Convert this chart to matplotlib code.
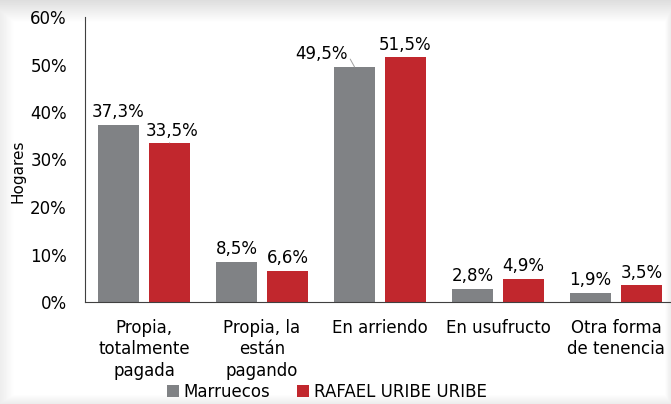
import matplotlib.pyplot as plt
import numpy as np

categorias = ["Propia,\ntotalmente\npagada", "Propia, la\nestán\npagando",
              "En arriendo", "En usufructo", "Otra forma\nde tenencia"]
marruecos = [37.3, 8.5, 49.5, 2.8, 1.9]
rafael = [33.5, 6.6, 51.5, 4.9, 3.5]
series = ["Marruecos", "RAFAEL URIBE URIBE"]
yticks = [0, 10, 20, 30, 40, 50, 60]

gris = "#808285"
rojo = "#c1272d"

fig = plt.figure(figsize=(6.71, 4.04), dpi=100)
fig.patch.set_facecolor("white")

# light shading around the frame
bg = fig.add_axes([0, 0, 1, 1])
h, w = 404, 671
yy, xx = np.mgrid[0:h, 0:w]
shade = np.zeros((h, w))
shade = np.maximum(shade, np.clip((22 - yy) / 22, 0, 1) * 0.13)
shade = np.maximum(shade, np.clip((xx - 664) / 7, 0, 1) * 0.08)
shade = np.maximum(shade, np.clip((yy - 394) / 10, 0, 1) * 0.08)
shade = np.maximum(shade, np.clip((14 - xx) / 14, 0, 1) * 0.07)
bg.imshow(1 - shade, cmap="gray", vmin=0, vmax=1, aspect="auto")
bg.set_axis_off()

ax = fig.add_axes([85 / 671, 102 / 404, 586 / 671, 285 / 404])
ax.patch.set_alpha(0)
x = np.arange(len(categorias))
bw = 0.35
off = 0.216
b1 = ax.bar(x - off, marruecos, bw, color=gris, label=series[0])
b2 = ax.bar(x + off, rafael, bw, color=rojo, label=series[1])

ax.set_xlim(-0.5, -0.5 + 586 / 118)
ax.set_ylim(0, 60)
ax.set_yticks(yticks)
ax.set_yticklabels([f"{t}%" for t in yticks], fontsize=12)
ax.set_xticks(x)
ax.set_xticklabels(categorias, fontsize=12, linespacing=1.25)
ax.tick_params(axis="both", length=0, colors="black")
ax.tick_params(axis="y", pad=13)
ax.tick_params(axis="x", pad=12)
for s in ["top", "right"]:
    ax.spines[s].set_visible(False)
ax.spines["left"].set_color("#404040")
ax.spines["bottom"].set_color("#404040")
ax.set_ylabel("Hogares", fontsize=11)
ax.yaxis.set_label_coords(-0.102, 0.46)

def fmt(v):
    return f"{v:.1f}%".replace(".", ",")

for i, v in enumerate(marruecos):
    if i == 2:
        ax.annotate(fmt(v), xy=(i - off, v), xytext=(i - off - 0.06, v + 0.8),
                    ha="right", va="bottom", fontsize=12,
                    arrowprops=dict(arrowstyle="-", color="#a0a0a0", lw=0.7,
                                    shrinkA=0, shrinkB=0, relpos=(1, 0.5)))
    else:
        ax.text(i - off, v + 0.8, fmt(v), ha="center", va="bottom", fontsize=12)
for i, v in enumerate(rafael):
    if i == 0:
        ax.annotate(fmt(v), xy=(i + off, v), xytext=(i + off + 0.02, v + 0.6),
                    ha="center", va="bottom", fontsize=12,
                    arrowprops=dict(arrowstyle="-", color="#a0a0a0", lw=0.7,
                                    shrinkA=0, shrinkB=0, relpos=(0.6, 0)))
    else:
        ax.text(i + off, v + 0.8, fmt(v), ha="center", va="bottom", fontsize=12)

fig.legend(handles=[b1, b2], labels=series, loc="center",
           bbox_to_anchor=(327 / 671, 12 / 404), ncol=2, frameon=False,
           fontsize=12, handlelength=0.7, handleheight=0.7, handletextpad=0.3,
           columnspacing=1.6)

fig.savefig("out.png", dpi=100)
